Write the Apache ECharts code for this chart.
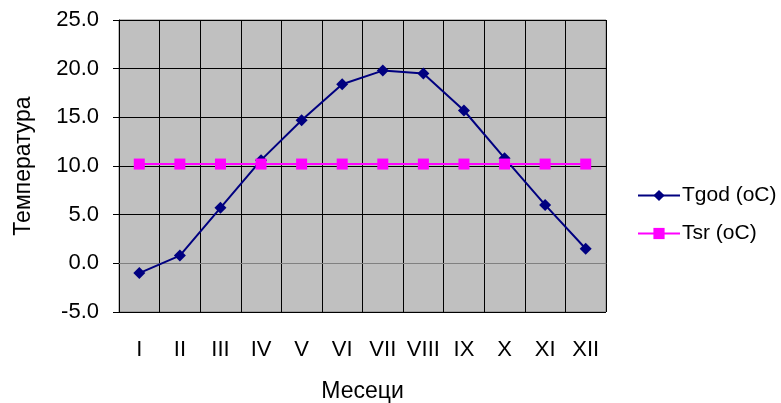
<!DOCTYPE html>
<html>
<head>
<meta charset="utf-8">
<script src="https://cdn.jsdelivr.net/npm/echarts@6/dist/echarts.min.js"></script>
<style>
html,body{margin:0;padding:0;background:#fff;}
#chart{width:781px;height:403px;}
</style>
</head>
<body>
<div id="chart"></div>
<script>
var months = ['I','II','III','IV','V','VI','VII','VIII','IX','X','XI','XII'];
var tgod = [-1.0, 0.8, 5.7, 10.6, 14.7, 18.4, 19.8, 19.5, 15.7, 10.8, 6.0, 1.5];
var tsr = [10.2, 10.2, 10.2, 10.2, 10.2, 10.2, 10.2, 10.2, 10.2, 10.2, 10.2, 10.2];
var seriesNames = ['Tgod (oC)', 'Tsr (oC)'];
var xTitle = 'Месеци';
var yTitle = 'Температура';

var font = '"Liberation Sans", Arial, sans-serif';
var chart = echarts.init(document.getElementById('chart'), null, {renderer: 'canvas'});
chart.setOption({
  animation: false,
  textStyle: {fontFamily: font, color: '#000'},
  grid: {
    left: 119, right: 175, top: 20, bottom: 91,
    show: true, backgroundColor: '#c0c0c0', borderColor: '#808080', borderWidth: 1,
    containLabel: false,
    outerBoundsMode: 'none'
  },
  legend: {
    orient: 'vertical',
    left: 632, top: 180,
    itemWidth: 42, itemHeight: 14, itemGap: 17,
    textStyle: {fontFamily: font, fontSize: 21, color: '#000', padding: [0,0,0,-3]},
    data: [
      {name: seriesNames[0]},
      {name: seriesNames[1]}
    ]
  },
  xAxis: {
    type: 'category',
    data: months,
    boundaryGap: true,
    name: xTitle,
    nameLocation: 'middle',
    nameGap: 68,
    nameTextStyle: {fontFamily: font, fontSize: 23, color: '#000'},
    axisLine: {show: true, lineStyle: {color: '#808080', width: 1}},
    axisTick: {show: false},
    axisLabel: {fontFamily: font, fontSize: 22, color: '#000', margin: 27, interval: 0},
    splitLine: {show: true, interval: 0, lineStyle: {color: '#000', width: 1}}
  },
  yAxis: {
    type: 'value',
    min: -5, max: 25, interval: 5,
    name: yTitle,
    nameLocation: 'middle',
    nameGap: 84,
    nameTextStyle: {fontFamily: font, fontSize: 23, color: '#000'},
    axisLine: {show: true, lineStyle: {color: '#000', width: 1}},
    axisTick: {show: true, length: 6, inside: false, lineStyle: {color: '#000'}},
    axisLabel: {fontFamily: font, fontSize: 22, color: '#000', margin: 20,
      formatter: function(v){ return v.toFixed(1); }},
    splitLine: {show: true, lineStyle: {color: '#000', width: 1}}
  },
  series: [
    {
      name: seriesNames[0], type: 'line', data: tgod,
      symbol: 'diamond', symbolSize: 12,
      lineStyle: {color: '#000080', width: 2},
      itemStyle: {color: '#000080'}
    },
    {
      name: seriesNames[1], type: 'line', data: tsr,
      symbol: 'rect', symbolSize: 11,
      lineStyle: {color: '#ff00ff', width: 2},
      itemStyle: {color: '#ff00ff'}
    }
  ]
});
</script>
</body>
</html>
